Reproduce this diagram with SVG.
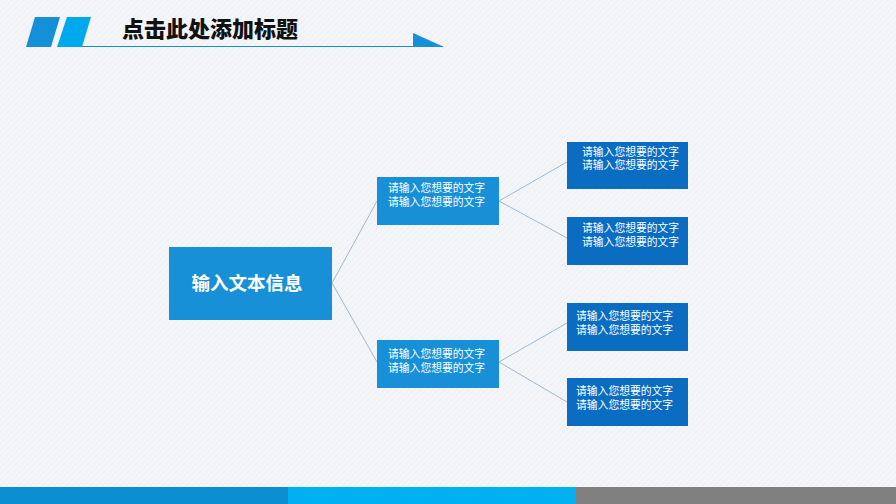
<svg xmlns="http://www.w3.org/2000/svg" width="896" height="504" viewBox="0 0 896 504">
<defs>
<pattern id="bgp" width="6" height="6" patternUnits="userSpaceOnUse">
<rect width="6" height="6" fill="#F3F5F8"/>
<path d="M0 6 L6 0" stroke="#E6EAF0" stroke-width="0.6"/>
</pattern>
</defs>
<style>
.cjk{font-family:"Noto Sans CJK SC","Liberation Sans",sans-serif;}
.mid{fill:#1790D8;}
.leaf{fill:#0B6DC2;}
.small{font-size:10.8px;fill:#FFFFFF;}
.conn{stroke:#9DB9D2;stroke-width:1;fill:none;}
</style>
<rect width="896" height="504" fill="url(#bgp)"/>
<g id="header">
<polygon points="35,17 60,17 51,47 26,47" fill="#1590D8"/>
<polygon points="67,17 91,17 82,47 57,47" fill="#00A9EC"/>
<line x1="82" y1="46.5" x2="443" y2="46.5" stroke="#1590D8" stroke-width="1.2"/>
<polygon points="413,33 443,46.5 413,46.5" fill="#1590D8"/>
<text x="122" y="37" class="cjk" font-size="22" font-weight="900" fill="#111111">点击此处添加标题</text>
</g>
<g id="connectors">
<line class="conn" x1="332" y1="283" x2="377" y2="201"/>
<line class="conn" x1="332" y1="283" x2="377" y2="362"/>
<line class="conn" x1="499" y1="201" x2="567" y2="162"/>
<line class="conn" x1="499" y1="201" x2="567" y2="238"/>
<line class="conn" x1="499" y1="362" x2="567" y2="323"/>
<line class="conn" x1="499" y1="362" x2="567" y2="402"/>
</g>
<g id="root">
<rect x="169" y="247" width="163" height="73" class="mid"/>
<text x="247" y="290" class="cjk" font-size="18.5" font-weight="bold" fill="#FFFFFF" text-anchor="middle">输入文本信息</text>
</g>
<g id="mid1">
<rect x="377" y="177" width="122" height="48" class="mid"/>
<text x="388" y="192" class="cjk small">请输入您想要的文字</text>
<text x="388" y="206" class="cjk small">请输入您想要的文字</text>
</g>
<g id="mid2">
<rect x="377" y="340" width="122" height="48" class="mid"/>
<text x="388" y="358" class="cjk small">请输入您想要的文字</text>
<text x="388" y="372" class="cjk small">请输入您想要的文字</text>
</g>
<g id="leaf1">
<rect x="567" y="142" width="121" height="47" class="leaf"/>
<text x="582" y="156" class="cjk small">请输入您想要的文字</text>
<text x="582" y="169" class="cjk small">请输入您想要的文字</text>
</g>
<g id="leaf2">
<rect x="567" y="217" width="121" height="48" class="leaf"/>
<text x="582" y="232" class="cjk small">请输入您想要的文字</text>
<text x="582" y="246" class="cjk small">请输入您想要的文字</text>
</g>
<g id="leaf3">
<rect x="567" y="303" width="121" height="48" class="leaf"/>
<text x="576" y="320" class="cjk small">请输入您想要的文字</text>
<text x="576" y="334" class="cjk small">请输入您想要的文字</text>
</g>
<g id="leaf4">
<rect x="567" y="378" width="121" height="48" class="leaf"/>
<text x="576" y="395" class="cjk small">请输入您想要的文字</text>
<text x="576" y="409" class="cjk small">请输入您想要的文字</text>
</g>
<g id="footer">
<rect x="0" y="487" width="288" height="17" fill="#0B8ED2"/>
<rect x="288" y="487" width="288" height="17" fill="#00B0F0"/>
<rect x="576" y="487" width="320" height="17" fill="#808080"/>
</g>
</svg>
